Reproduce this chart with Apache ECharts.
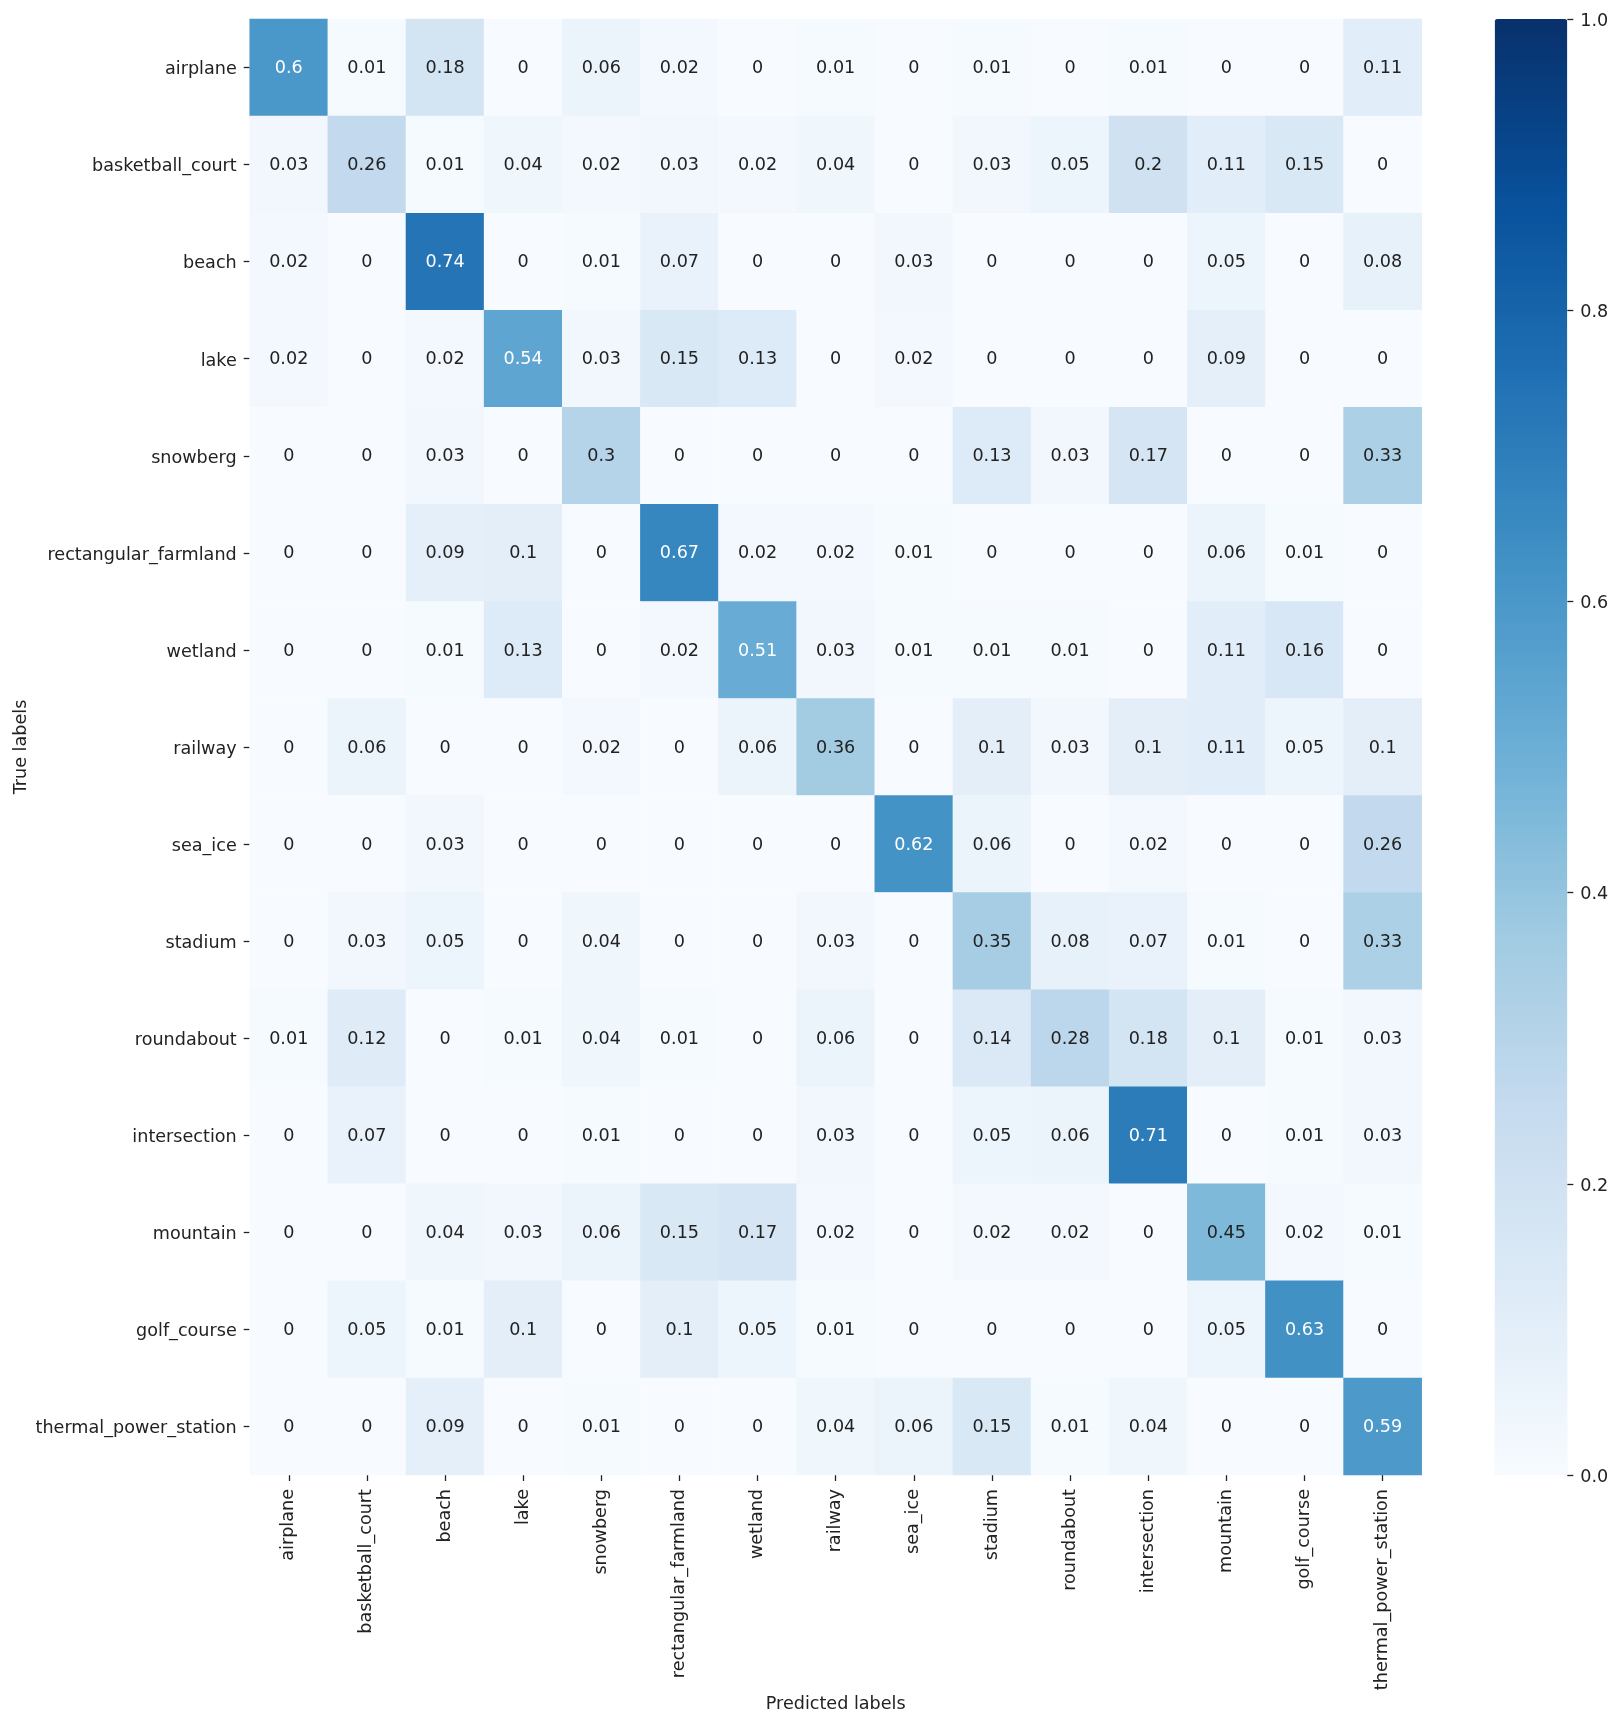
<!DOCTYPE html>
<html>
<head>
<meta charset="utf-8">
<title>Confusion matrix</title>
<script src="https://cdn.jsdelivr.net/npm/echarts@6/dist/echarts.min.js"></script>
<style>
  html, body { margin: 0; padding: 0; background: #fff; }
  #chart { width: 1620px; height: 1725px; }
</style>
</head>
<body>
<div id="chart"></div>
<script>
// class names, same order on both axes
const categories = [
  'airplane', 'basketball_court', 'beach', 'lake', 'snowberg',
  'rectangular_farmland', 'wetland', 'railway', 'sea_ice', 'stadium',
  'roundabout', 'intersection', 'mountain', 'golf_course', 'thermal_power_station'
];

// one row per true label
const matrix = [
  [0.6, 0.01, 0.18, 0, 0.06, 0.02, 0, 0.01, 0, 0.01, 0, 0.01, 0, 0, 0.11],
  [0.03, 0.26, 0.01, 0.04, 0.02, 0.03, 0.02, 0.04, 0, 0.03, 0.05, 0.2, 0.11, 0.15, 0],
  [0.02, 0, 0.74, 0, 0.01, 0.07, 0, 0, 0.03, 0, 0, 0, 0.05, 0, 0.08],
  [0.02, 0, 0.02, 0.54, 0.03, 0.15, 0.13, 0, 0.02, 0, 0, 0, 0.09, 0, 0],
  [0, 0, 0.03, 0, 0.3, 0, 0, 0, 0, 0.13, 0.03, 0.17, 0, 0, 0.33],
  [0, 0, 0.09, 0.1, 0, 0.67, 0.02, 0.02, 0.01, 0, 0, 0, 0.06, 0.01, 0],
  [0, 0, 0.01, 0.13, 0, 0.02, 0.51, 0.03, 0.01, 0.01, 0.01, 0, 0.11, 0.16, 0],
  [0, 0.06, 0, 0, 0.02, 0, 0.06, 0.36, 0, 0.1, 0.03, 0.1, 0.11, 0.05, 0.1],
  [0, 0, 0.03, 0, 0, 0, 0, 0, 0.62, 0.06, 0, 0.02, 0, 0, 0.26],
  [0, 0.03, 0.05, 0, 0.04, 0, 0, 0.03, 0, 0.35, 0.08, 0.07, 0.01, 0, 0.33],
  [0.01, 0.12, 0, 0.01, 0.04, 0.01, 0, 0.06, 0, 0.14, 0.28, 0.18, 0.1, 0.01, 0.03],
  [0, 0.07, 0, 0, 0.01, 0, 0, 0.03, 0, 0.05, 0.06, 0.71, 0, 0.01, 0.03],
  [0, 0, 0.04, 0.03, 0.06, 0.15, 0.17, 0.02, 0, 0.02, 0.02, 0, 0.45, 0.02, 0.01],
  [0, 0.05, 0.01, 0.1, 0, 0.1, 0.05, 0.01, 0, 0, 0, 0, 0.05, 0.63, 0],
  [0, 0, 0.09, 0, 0.01, 0, 0, 0.04, 0.06, 0.15, 0.01, 0.04, 0, 0, 0.59]
];

const blues = ['#f7fbff', '#deebf7', '#c6dbef', '#9ecae1', '#6baed6', '#4292c6', '#2171b5', '#08519c', '#08306b'];

const fontFamily = 'DejaVu Sans';
const fontSize = 17.6;
const textColor = '#222222';

const cells = [];
matrix.forEach((row, y) => {
  row.forEach((value, x) => {
    cells.push({
      value: [x, y, value],
      // white text on the dark cells
      label: { color: value > 0.5 ? '#ffffff' : textColor }
    });
  });
});

const chart = echarts.init(document.getElementById('chart'), null, { renderer: 'canvas' });

// axis line stays invisible, the ticks are only drawn when it is on
const hiddenLine = { show: true, onZero: false, lineStyle: { color: 'rgba(0,0,0,0)' } };
const tickStyle = { show: true, alignWithLabel: true, length: 6, lineStyle: { color: textColor, width: 1.3 } };

chart.setOption({
  animation: false,
  backgroundColor: '#ffffff',
  textStyle: { fontFamily: fontFamily },
  grid: [
    { left: 249.7, top: 19, width: 1172, height: 1456, outerBoundsMode: 'none' },
    // only carries the colorbar ticks
    { left: 1494.7, top: 19, width: 72.6, height: 1456, outerBoundsMode: 'none' }
  ],
  xAxis: [
    {
      type: 'category',
      gridIndex: 0,
      data: categories,
      name: 'Predicted labels',
      nameLocation: 'middle',
      nameGap: 220,
      nameMoveOverlap: false,
      nameTextStyle: { fontFamily, fontSize, color: textColor },
      axisLine: hiddenLine,
      axisTick: tickStyle,
      axisLabel: { rotate: 90, interval: 0, margin: 14, fontFamily, fontSize, color: textColor },
      splitLine: { show: false }
    },
    { type: 'value', gridIndex: 1, min: 0, max: 1, show: false }
  ],
  yAxis: [
    {
      type: 'category',
      gridIndex: 0,
      inverse: true,
      data: categories,
      name: 'True labels',
      nameLocation: 'middle',
      nameGap: 219,
      nameMoveOverlap: false,
      nameRotate: 90,
      nameTextStyle: { fontFamily, fontSize, color: textColor },
      axisLine: hiddenLine,
      axisTick: tickStyle,
      // top aligned with a small line height: sits about 2px below the tick, as in the reference
      axisLabel: { interval: 0, margin: 13, verticalAlign: 'top', lineHeight: 4.4, fontFamily, fontSize, color: textColor },
      splitLine: { show: false }
    },
    {
      type: 'value',
      gridIndex: 1,
      position: 'right',
      min: 0,
      max: 1,
      interval: 0.2,
      axisLine: hiddenLine,
      axisTick: { show: true, length: 6, lineStyle: { color: textColor, width: 1.3 } },
      axisLabel: {
        margin: 13,
        verticalAlign: 'top',
        lineHeight: 4.4,
        fontFamily,
        fontSize,
        color: textColor,
        formatter: (v) => v.toFixed(1)
      },
      splitLine: { show: false }
    }
  ],
  visualMap: {
    type: 'continuous',
    seriesIndex: 0,
    dimension: 2,
    min: 0,
    max: 1,
    left: 1494.7,
    top: 19,
    itemWidth: 72.6,
    itemHeight: 1456,
    padding: 0,
    calculable: false,
    realtime: false,
    hoverLink: false,
    showLabel: false,
    indicatorSize: 0,
    indicatorStyle: { opacity: 0, borderWidth: 0 },
    text: null,
    inRange: { color: blues }
  },
  series: [
    {
      type: 'heatmap',
      xAxisIndex: 0,
      yAxisIndex: 0,
      data: cells,
      label: {
        show: true,
        offset: [0, 1],
        fontFamily,
        fontSize,
        formatter: (p) => String(p.value[2])
      },
      itemStyle: { borderWidth: 0 },
      emphasis: { disabled: true }
    }
  ]
});

window.addEventListener('resize', () => chart.resize());
</script>
</body>
</html>
